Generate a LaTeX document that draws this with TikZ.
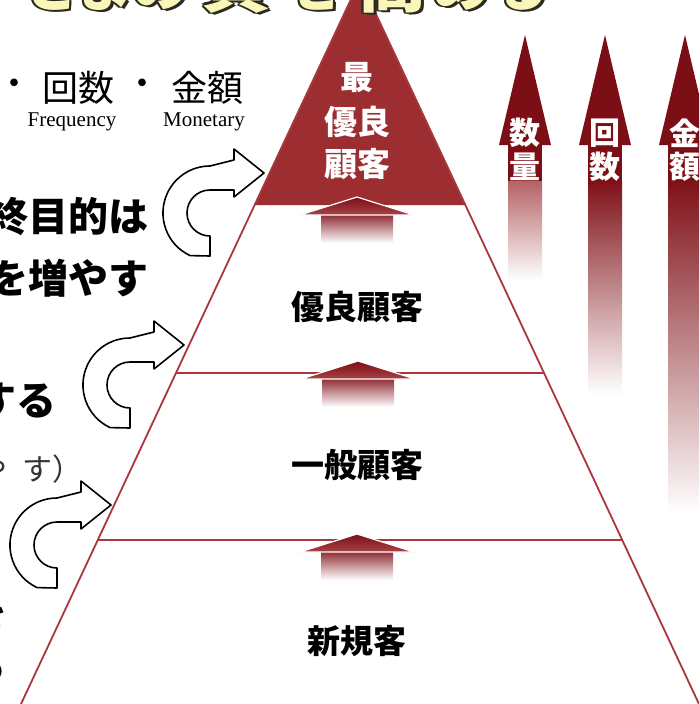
\documentclass[tikz,border=0pt]{standalone}
\usepackage{fontspec}
\setmainfont{Liberation Serif}
\newfontfamily\jp{Noto Sans CJK JP}
\definecolor{pyr}{HTML}{9C2E32}
\definecolor{pline}{HTML}{A8383C}
\definecolor{maroon}{HTML}{7C0E15}
\definecolor{ttl}{HTML}{FAF6B8}
\definecolor{ttlout}{HTML}{2A2A20}
\tikzset{
  lvl/.style={font=\jp\bfseries\fontsize{33}{33}\selectfont, inner sep=0pt},
  toptxt/.style={font=\jp\bfseries\fontsize{33}{33}\selectfont, text=white, inner sep=0pt},
  arrtxt/.style={font=\jp\bfseries\fontsize{31}{31}\selectfont, text=white, inner sep=0pt},
  bigtxt/.style={font=\jp\bfseries\fontsize{40}{40}\selectfont, inner sep=0pt},
  midtxt/.style={font=\jp\fontsize{30}{30}\selectfont, inner sep=0pt, text=black!80},
  legtxt/.style={font=\jp\fontsize{36}{36}\selectfont, inner sep=0pt},
  engtxt/.style={font=\fontsize{21}{21}\selectfont, inner sep=0pt},
  ttlk/.style={font=\jp\bfseries\fontsize{70}{70}\selectfont, inner sep=0pt, anchor=base},
  ttlh/.style={font=\jp\bfseries\fontsize{58}{58}\selectfont, inner sep=0pt, anchor=base},
  pyrline/.style={draw=pline, line width=1.8pt},
  curv/.style={draw=black, line width=1.6pt, fill=white, line join=round},
}
\newcommand\pyrarrow[3]{%
  \shade[top color=maroon!85!pyr, bottom color=white] (#2-36,#3+14) rectangle (#2+36,#3+46);
  \shade[top color=maroon, bottom color=pyr!90, draw=white, line width=1.2pt] (#2,#3) -- (#2+57,#3+18) -- (#2-57,#3+18) -- cycle;
  \coordinate (#1) at (#2,#3);
}
\newcommand\rarrow[4]{%
  \fill[maroon] (#2-17,140) rectangle (#2+17,182);
  \shade[top color=#4, bottom color=white] (#2-17,181) rectangle (#2+17,#3);
  \fill[maroon] (#2,35) -- (#2+26,145) -- (#2-26,145) -- cycle;
  \coordinate (#1) at (#2,35);
}
\newcommand\curvarrow[3]{%
  \begin{scope}[shift={(#2,#3)}, yscale=-1]
    \coordinate (#1) at (0,0);
    \path[curv] (-19.9,-42.6) arc[start angle=245, end angle=90, radius=47]
      -- (24,53) -- (24,64) -- (54,40) -- (24,16) -- (24,23) -- (0,23)
      arc[start angle=90, end angle=270, radius=23] -- (0,-43) -- cycle;
  \end{scope}
}
% title character: style, x, char, name
\newcommand\ttlchar[4]{%
  \foreach \dx/\dy in {3/3, -2/0, 2/0, 0/-2, 0/2, -1.5/-1.5, 1.5/1.5, -1.5/1.5, 1.5/-1.5}{
    \node[#1, text=ttlout] at (#2+\dx,6+\dy) {#3};
  }
  \node[#1, text=ttl] (#4) at (#2,6) {#3};
}
\begin{document}
\begin{tikzpicture}[x=1pt,y=-1pt]
\path[use as bounding box] (0,0) rectangle (699,704);
\clip (0,0) rectangle (699,704);
\fill[white] (0,0) rectangle (699,704);

% pyramid
\coordinate (apex) at (360,-20);
\coordinate (bl) at (21,704);
\coordinate (br) at (699,704);
\coordinate (l1) at (254,205); \coordinate (r1) at (466,205);
\coordinate (l2) at (175.5,373); \coordinate (r2) at (544.5,373);
\coordinate (l3) at (97.5,540); \coordinate (r3) at (622.5,540);
\fill[pyr] (apex) -- (l1) -- (r1) -- cycle;
\draw[pyrline] (bl) -- (apex) -- (br);
\draw[pyrline] (l2) -- (r2);
\draw[pyrline] (l3) -- (r3);

% small up arrows
\pyrarrow{pa1}{357}{197}
\pyrarrow{pa2}{358}{361}
\pyrarrow{pa3}{357}{534}

% level labels
\node[toptxt] (t1) at (357,78) {最};
\node[toptxt] (t2) at (357,122) {優良};
\node[toptxt] (t3) at (357,164) {顧客};
\node[lvl] (lv1) at (357,307) {優良顧客};
\node[lvl] (lv2) at (357,465) {一般顧客};
\node[lvl] (lv3) at (357,641) {新規客};

% right arrows
\rarrow{ra1}{525}{280}{pyr!75!white}
\rarrow{ra2}{605}{395}{maroon!90!pyr}
\rarrow{ra3}{685}{513}{maroon!90!pyr}
\node[arrtxt] (q1) at (525,133) {数};
\node[arrtxt] (q2) at (525,167) {量};
\node[arrtxt] (f1) at (605,133) {回};
\node[arrtxt] (f2) at (605,167) {数};
\node[arrtxt] (m1) at (685,133) {金};
\node[arrtxt] (m2) at (685,167) {額};

% curved arrows
\curvarrow{ca1}{210}{213}
\curvarrow{ca2}{130}{385}
\curvarrow{ca3}{57}{545}

% left texts
\node[legtxt] (d1) at (14,88) {・};
\node[legtxt] (k1) at (78,88) {回数};
\node[legtxt] (d2) at (142,88) {・};
\node[legtxt] (k2) at (207,88) {金額};
\node[engtxt] (e1) at (72,122) {Frequency};
\node[engtxt] (e2) at (204,122) {Monetary};
\node[bigtxt, anchor=east] (b1) at (149,217) {終目的は};
\node[bigtxt, anchor=east] (b2) at (149,278) {を増やす};
\node[bigtxt, anchor=east] (b3) at (57,401) {する};
\node[midtxt] (s1) at (-8,469) {や};
\node[midtxt] (s2) at (38,469) {す};
\node[midtxt, anchor=west] (s3) at (52,469) {）};
\node[bigtxt] (b4) at (-12,614) {を};
\node[bigtxt] (b5) at (-13,666) {る};

% title (cropped at the top edge)
\ttlchar{ttlk}{-25}{客}{tc1}
\ttlchar{ttlh}{53}{さ}{tc2}
\ttlchar{ttlh}{104}{ま}{tc3}
\ttlchar{ttlh}{160}{の}{tc4}
\ttlchar{ttlk}{236}{質}{tc5}
\ttlchar{ttlh}{314}{を}{tc6}
\ttlchar{ttlk}{392}{高}{tc7}
\ttlchar{ttlh}{461}{め}{tc8}
\ttlchar{ttlh}{520}{る}{tc9}
\end{tikzpicture}
\end{document}
